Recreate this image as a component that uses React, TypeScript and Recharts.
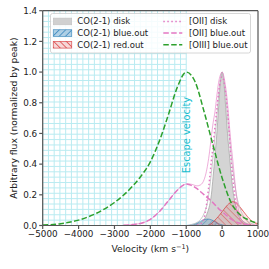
import React from 'react';
import { ComposedChart, Area, Line, XAxis, YAxis, ReferenceLine, Legend } from 'recharts';

// ---- axis ticks ----
const X_TICKS = [-5000, -4000, -3000, -2000, -1000, 0, 1000];
const Y_TICKS = [0, 0.2, 0.4, 0.6, 0.8, 1.0, 1.2, 1.4];
const ESCAPE_VELOCITY = -1000;

// ---- CO(2-1) disk (gray fill) ----
const CO_DISK_V = [-800, -700, -600, -500, -450, -400, -350, -300, -250, -200, -150, -100, -50, 0, 50, 100, 150, 200, 250, 300, 350, 400, 450, 500, 600, 700, 800];
const CO_DISK_F = [0.005, 0.01, 0.02, 0.04, 0.06, 0.09, 0.13, 0.2, 0.32, 0.45, 0.59, 0.76, 0.93, 1.0, 0.93, 0.77, 0.6, 0.47, 0.34, 0.23, 0.16, 0.11, 0.07, 0.05, 0.025, 0.012, 0.005];

// ---- CO(2-1) model envelope (gray line) ----
const CO_MODEL_V = [-900, -800, -700, -600, -500, -400, -300, -200, -150, -100, -50, 0, 50, 100, 150, 200, 300, 400, 500, 600, 700, 800, 900];
const CO_MODEL_F = [0.005, 0.01, 0.02, 0.04, 0.08, 0.16, 0.34, 0.58, 0.7, 0.84, 0.95, 1.0, 0.95, 0.85, 0.71, 0.58, 0.36, 0.2, 0.11, 0.06, 0.03, 0.015, 0.007];

// ---- CO(2-1) blue.out ----
const CO_BLUE_V = [-1000, -900, -800, -700, -600, -500, -400, -300, -200, -100, 0, 100];
const CO_BLUE_F = [0, 0.003, 0.008, 0.016, 0.028, 0.038, 0.042, 0.037, 0.025, 0.012, 0.004, 0];

// ---- CO(2-1) red.out ----
const CO_RED_V = [-400, -300, -200, -100, 0, 100, 200, 300, 400, 500, 600, 700, 800, 900, 1000];
const CO_RED_F = [0, 0.012, 0.035, 0.06, 0.09, 0.12, 0.145, 0.155, 0.148, 0.12, 0.09, 0.06, 0.035, 0.02, 0.012];

// ---- [OII] disk (dotted) ----
const OII_DISK_V = [-700, -600, -550, -500, -450, -400, -350, -300, -250, -200, -150, -100, -50, 0, 50, 100, 150, 200, 250, 300, 350, 400, 450, 500, 600, 700];
const OII_DISK_F = [0.003, 0.01, 0.025, 0.05, 0.11, 0.2, 0.3, 0.42, 0.52, 0.64, 0.75, 0.86, 0.94, 0.97, 0.94, 0.86, 0.75, 0.6, 0.43, 0.3, 0.2, 0.11, 0.07, 0.037, 0.01, 0.003];

// ---- [OII] total (light solid) ----
const OII_TOTAL_V = [-2750, -2500, -2250, -2000, -1750, -1500, -1250, -1000, -900, -800, -700, -600, -500, -450, -400, -350, -300, -250, -200, -150, -100, -50, 0, 50, 100, 150, 200, 250, 300, 350, 400, 450, 500, 600, 700, 800, 1000];
const OII_TOTAL_F = [0.002, 0.006, 0.015, 0.04, 0.09, 0.16, 0.23, 0.27, 0.27, 0.265, 0.258, 0.265, 0.3, 0.34, 0.4, 0.48, 0.58, 0.67, 0.74, 0.84, 0.93, 0.98, 1.0, 0.97, 0.9, 0.8, 0.66, 0.53, 0.42, 0.3, 0.19, 0.11, 0.06, 0.02, 0.007, 0.002, 0];

// ---- [OII] blue.out (dashed) ----
const OII_BLUE_V = [-2750, -2500, -2250, -2000, -1750, -1500, -1250, -1000, -900, -800, -700, -600, -500, -400, -300, -200, -100, 0, 100, 200, 300, 400, 500, 600, 800, 1000];
const OII_BLUE_F = [0.002, 0.006, 0.015, 0.04, 0.09, 0.16, 0.23, 0.27, 0.265, 0.255, 0.24, 0.22, 0.2, 0.18, 0.16, 0.135, 0.11, 0.09, 0.07, 0.05, 0.035, 0.022, 0.014, 0.008, 0.002, 0];

// ---- [OIII] blue.out (green dashed) ----
const OIII_BLUE_V = [-5000, -4500, -4000, -3500, -3000, -2500, -2250, -2000, -1750, -1500, -1250, -1000, -750, -500, -250, 0, 250, 500, 750, 1000];
const OIII_BLUE_F = [0.003, 0.012, 0.035, 0.08, 0.15, 0.255, 0.325, 0.415, 0.55, 0.72, 0.9, 1.0, 0.935, 0.74, 0.52, 0.31, 0.15, 0.07, 0.035, 0.013];

// ---- legend labels ----
const LEGEND_LEFT = ['CO(2-1) disk', 'CO(2-1) blue.out', 'CO(2-1) red.out'];
const LEGEND_RIGHT = ['[OII] disk', '[OII] blue.out', '[OIII] blue.out'];

// ---- decorative grid in the escape region ----
const GRID_X_STEP = 160;
const GRID_Y_STEP = 0.035;

const toPoints = (vs: number[], fs: number[]) => vs.map((v, i) => ({ v, f: fs[i] }));

const coDisk = toPoints(CO_DISK_V, CO_DISK_F);
const coModel = toPoints(CO_MODEL_V, CO_MODEL_F);
const coBlue = toPoints(CO_BLUE_V, CO_BLUE_F);
const coRed = toPoints(CO_RED_V, CO_RED_F);
const oiiDisk = toPoints(OII_DISK_V, OII_DISK_F);
const oiiTotal = toPoints(OII_TOTAL_V, OII_TOTAL_F);
const oiiBlue = toPoints(OII_BLUE_V, OII_BLUE_F);
const oiiiBlue = toPoints(OIII_BLUE_V, OIII_BLUE_F);

const gridXs: number[] = [];
for (let x = X_TICKS[0]; x <= ESCAPE_VELOCITY + 1e-6; x += GRID_X_STEP) gridXs.push(x);
const gridYs: number[] = [];
for (let k = 0; k * GRID_Y_STEP <= 1.4 + 1e-9; k++) gridYs.push(+(k * GRID_Y_STEP).toFixed(4));

const FONT = 'DejaVu Sans, sans-serif';
const GRID_COLOR = '#b9ebf1';
const CYAN = '#17becf';
const PINK = '#e377c2';
const GREEN = '#2ca02c';
const BLUE = '#1f77b4';
const RED = '#d62728';
const AXIS = '#555555';

const fmtX = (v: number) => (v < 0 ? '\u2212' + Math.abs(v) : String(v));
const fmtY = (v: number) => v.toFixed(1);

const Patterns = ({ prefix }: { prefix: string }) => (
  <defs>
    <pattern id={prefix + 'Blue'} width={4.5} height={4.5} patternUnits="userSpaceOnUse" patternTransform="rotate(45)">
      <rect width={4.5} height={4.5} fill={BLUE} fillOpacity={0.35} />
      <line x1={0} y1={0} x2={0} y2={4.5} stroke={BLUE} strokeWidth={1.3} />
    </pattern>
    <pattern id={prefix + 'Red'} width={4.5} height={4.5} patternUnits="userSpaceOnUse" patternTransform="rotate(-45)">
      <rect width={4.5} height={4.5} fill={RED} fillOpacity={0.18} />
      <line x1={0} y1={0} x2={0} y2={4.5} stroke={RED} strokeWidth={1.3} />
    </pattern>
  </defs>
);

const EscapeLabel = (props: any) => {
  const vb = props.viewBox || {};
  const cx = (vb.x || 0) + (vb.width || 0) / 2 + 0.5;
  const cy = (vb.y || 0) + (vb.height || 0) / 2;
  return (
    <text x={cx} y={cy} transform={`rotate(-90 ${cx} ${cy})`} textAnchor="middle" dominantBaseline="central"
      fill={CYAN} fontSize={9.8} fontFamily={FONT}>Escape velocity</text>
  );
};

const XLabel = (props: any) => {
  const vb = props.viewBox || {};
  const cx = vb.x + vb.width / 2;
  const y = vb.y + 26.5;
  return (
    <text x={cx} y={y} textAnchor="middle" fontSize={9.2} fill="#222" fontFamily={FONT}>
      Velocity (km s<tspan dy={-3.5} fontSize={6.5}>{'\u22121'}</tspan><tspan dy={3.5}>)</tspan>
    </text>
  );
};

const YLabel = (props: any) => {
  const vb = props.viewBox || {};
  const cx = 13.5;
  const cy = vb.y + vb.height / 2;
  return (
    <text x={cx} y={cy} transform={`rotate(-90 ${cx} ${cy})`} textAnchor="middle" dominantBaseline="central"
      fontSize={9.2} fill="#222" fontFamily={FONT}>Arbitrary flux (normalized by peak)</text>
  );
};

const LegendBox = () => {
  const rows = [8.4, 20, 31.7];
  return (
    <svg width={202} height={41} style={{ display: 'block', overflow: 'visible' }}>
      <Patterns prefix="lg" />
      <rect x={0.5} y={0.5} width={200} height={39.5} rx={2} fill="#ffffff" fillOpacity={0.85} stroke="#cccccc" strokeWidth={0.8} />
      <rect x={3.3} y={rows[0] - 3.3} width={18.4} height={6.7} fill="#d0d0d0" stroke="#c0c0c0" strokeWidth={0.6} />
      <rect x={3.3} y={rows[1] - 3.3} width={18.4} height={6.7} fill="url(#lgBlue)" stroke={BLUE} strokeOpacity={0.7} strokeWidth={0.8} />
      <rect x={3.3} y={rows[2] - 3.3} width={18.4} height={6.7} fill="url(#lgRed)" stroke={RED} strokeOpacity={0.7} strokeWidth={0.8} />
      {LEGEND_LEFT.map((t, i) => (
        <text key={t} x={27.3} y={rows[i]} dominantBaseline="central" fontSize={8.5} fill="#222" fontFamily={FONT}>{t}</text>
      ))}
      <line x1={113.3} x2={132.3} y1={rows[0]} y2={rows[0]} stroke={PINK} strokeWidth={1.5} strokeDasharray="1.5 2.5" />
      <line x1={113.3} x2={132.3} y1={rows[1]} y2={rows[1]} stroke={PINK} strokeWidth={1.5} strokeDasharray="5.5 2.4" />
      <line x1={113.3} x2={132.3} y1={rows[2]} y2={rows[2]} stroke={GREEN} strokeWidth={1.5} strokeDasharray="5.5 2.4" />
      {LEGEND_RIGHT.map((t, i) => (
        <text key={t} x={139} y={rows[i]} dominantBaseline="central" fontSize={8.5} fill="#222" fontFamily={FONT}>{t}</text>
      ))}
    </svg>
  );
};

export default function App() {
  return (
    <div style={{ position: 'absolute', left: 0, top: 0, width: 269, height: 269, fontFamily: FONT }}>
      <ComposedChart width={269} height={269} margin={{ top: 10.7, right: 11, bottom: 13.5, left: 0 }}>
        <Patterns prefix="pl" />
        {gridXs.map((x) => (
          <ReferenceLine key={'gx' + x} x={x} stroke={GRID_COLOR} strokeWidth={1} />
        ))}
        {gridYs.map((y) => (
          <ReferenceLine key={'gy' + y} segment={[{ x: X_TICKS[0], y }, { x: ESCAPE_VELOCITY, y }]} stroke={GRID_COLOR} strokeWidth={1} />
        ))}
        <ReferenceLine segment={[{ x: ESCAPE_VELOCITY, y: 0.33 }, { x: ESCAPE_VELOCITY, y: 0.85 }]} stroke="none" label={<EscapeLabel />} />
        <XAxis type="number" dataKey="v" domain={[X_TICKS[0], X_TICKS[X_TICKS.length - 1]]} ticks={X_TICKS} allowDataOverflow
          tickFormatter={fmtX} height={30} stroke={AXIS} strokeWidth={1.2} tickSize={3.5}
          tick={{ fontSize: 8.8, fill: '#222', fontFamily: FONT }} label={<XLabel />} interval={0} />
        <YAxis type="number" domain={[0, 1.4]} ticks={Y_TICKS} allowDataOverflow tickFormatter={fmtY} width={42.7}
          stroke={AXIS} strokeWidth={1.2} tickSize={3.5} tick={{ fontSize: 8.8, fill: '#222', fontFamily: FONT }}
          label={<YLabel />} interval={0} />
        <Area data={coDisk} dataKey="f" type="monotone" fill="#cfcfcf" fillOpacity={0.9} stroke="#a8a8a8" strokeWidth={0.8} isAnimationActive={false} />
        <Line data={coModel} dataKey="f" type="monotone" stroke="#c4c4c4" strokeWidth={0.9} dot={false} isAnimationActive={false} />
        <Area data={coBlue} dataKey="f" type="monotone" fill="url(#plBlue)" stroke={BLUE} strokeOpacity={0.7} strokeWidth={0.8} isAnimationActive={false} />
        <Area data={coRed} dataKey="f" type="monotone" fill="url(#plRed)" stroke={RED} strokeOpacity={0.8} strokeWidth={0.8} isAnimationActive={false} />
        <Line data={oiiTotal} dataKey="f" type="monotone" stroke={PINK} strokeOpacity={0.6} strokeWidth={1} dot={false} isAnimationActive={false} />
        <Line data={oiiDisk} dataKey="f" type="monotone" stroke={PINK} strokeWidth={1.5} strokeDasharray="1.5 2.5" dot={false} isAnimationActive={false} />
        <Line data={oiiBlue} dataKey="f" type="monotone" stroke={PINK} strokeWidth={1.5} strokeDasharray="5.5 2.4" dot={false} isAnimationActive={false} />
        <Line data={oiiiBlue} dataKey="f" type="monotone" stroke={GREEN} strokeWidth={1.5} strokeDasharray="5.5 2.4" dot={false} isAnimationActive={false} />
        <ReferenceLine y={1.4} stroke={AXIS} strokeWidth={1.2} />
        <ReferenceLine x={1000} stroke={AXIS} strokeWidth={1.2} />
        <Legend layout="horizontal" verticalAlign="middle" align="center" content={<LegendBox />}
          wrapperStyle={{ position: 'absolute', left: 50, top: 13.3, width: 202, height: 41 }} />
      </ComposedChart>
    </div>
  );
}
